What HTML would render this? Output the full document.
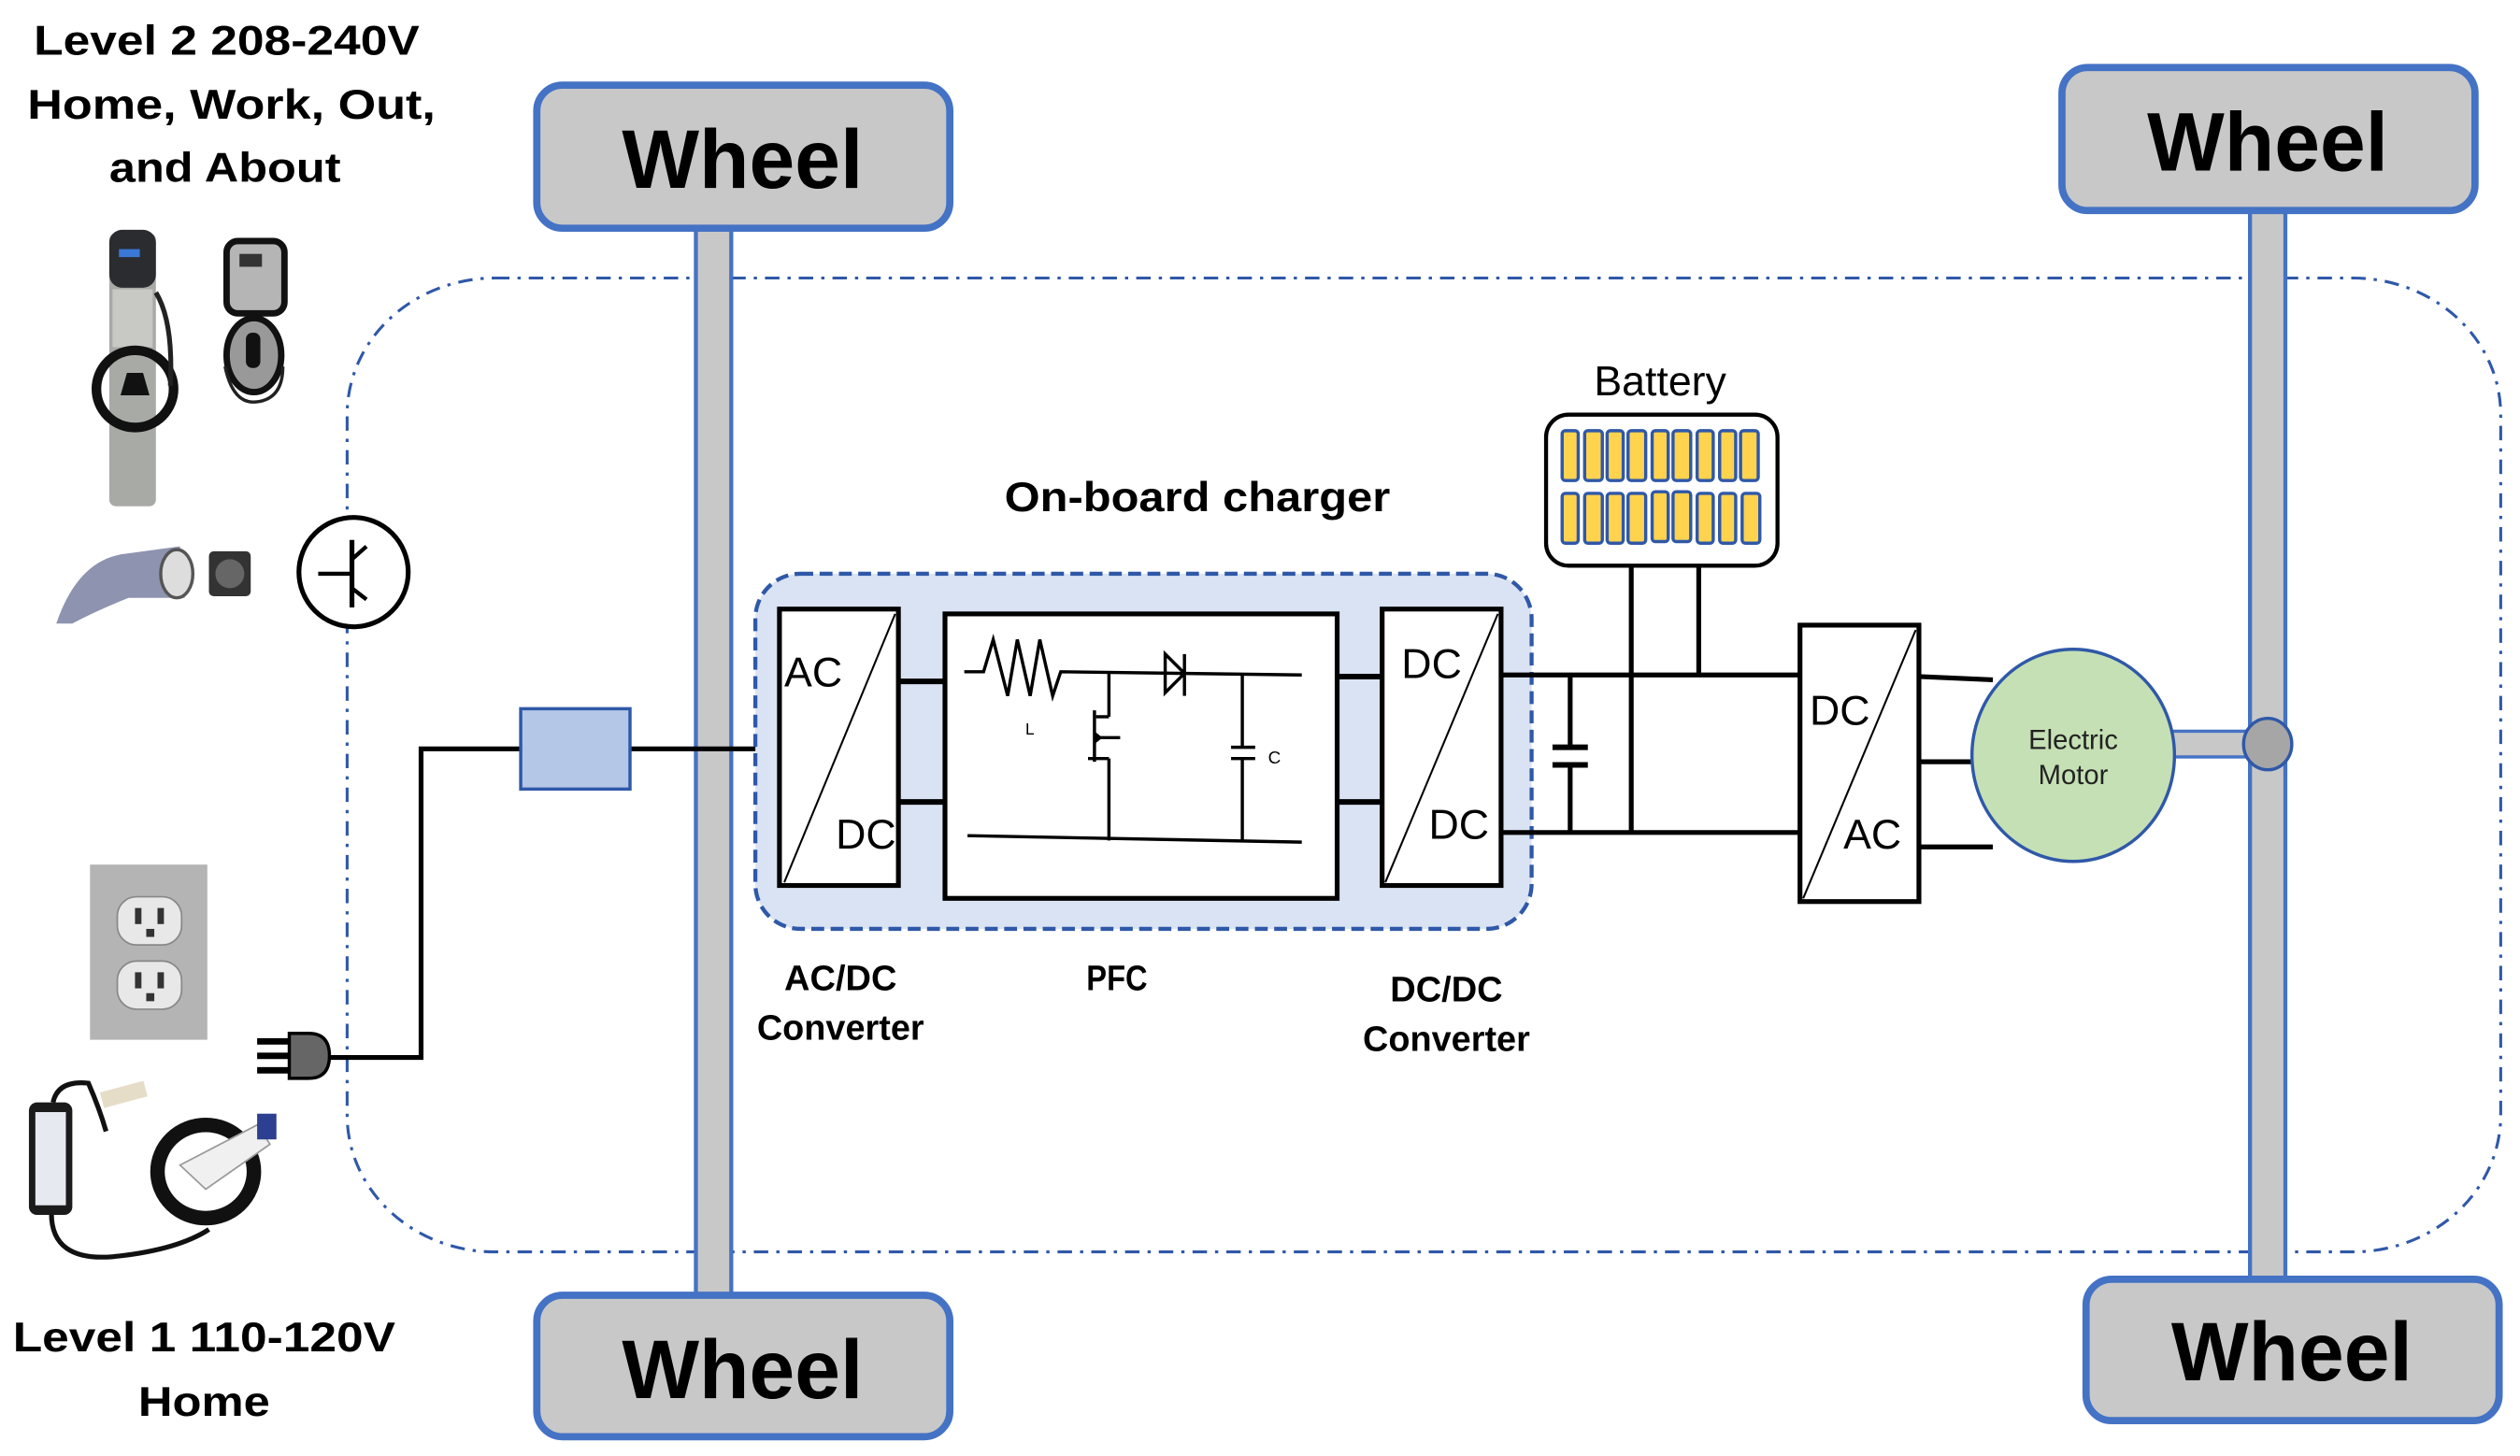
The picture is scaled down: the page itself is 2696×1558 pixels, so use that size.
<!DOCTYPE html>
<html><head><meta charset="utf-8"><style>
html,body{margin:0;padding:0;background:#fff;}
svg{display:block;}
text{font-family:"Liberation Sans",sans-serif;}
</style></head><body>
<svg width="2696" height="1558" viewBox="0 0 1568 906" preserveAspectRatio="none" xmlns="http://www.w3.org/2000/svg">
<rect width="1568" height="906" fill="#fff"/>
<rect x="216" y="173" width="1340" height="606" rx="92" ry="85" fill="none" stroke="#2f58a8" stroke-width="1.8" stroke-dasharray="9,5,2,5"/>
<rect x="433" y="140" width="22" height="668" fill="#c8c8c8" stroke="#4472c4" stroke-width="2.5"/>
<rect x="1400" y="128" width="22" height="670" fill="#c8c8c8" stroke="#4472c4" stroke-width="2.5"/>
<g stroke="#4472c4" stroke-width="4.5" fill="#c8c8c8">
<rect x="334" y="53" width="257" height="89" rx="16"/>
<rect x="334" y="806" width="257" height="88" rx="16"/>
<rect x="1283" y="42" width="257" height="89" rx="16"/>
<rect x="1298" y="796" width="257" height="88" rx="16"/>
</g>
<g font-weight="bold" font-size="52" text-anchor="middle" fill="#000">
<text x="462" y="117" textLength="150" lengthAdjust="spacingAndGlyphs">Wheel</text>
<text x="462" y="870" textLength="150" lengthAdjust="spacingAndGlyphs">Wheel</text>
<text x="1411" y="106" textLength="150" lengthAdjust="spacingAndGlyphs">Wheel</text>
<text x="1426" y="859" textLength="150" lengthAdjust="spacingAndGlyphs">Wheel</text>
</g>
<g font-weight="bold" font-size="26" text-anchor="middle" fill="#000">
<text x="141" y="34" textLength="240" lengthAdjust="spacingAndGlyphs">Level 2  208-240V</text>
<text x="144" y="74" textLength="254" lengthAdjust="spacingAndGlyphs">Home,  Work, Out,</text>
<text x="140" y="113" textLength="144" lengthAdjust="spacingAndGlyphs">and About</text>
<text x="127" y="841" textLength="238" lengthAdjust="spacingAndGlyphs">Level 1  110-120V</text>
<text x="127" y="881" textLength="82" lengthAdjust="spacingAndGlyphs">Home</text>
</g>
<!-- level2 chargers -->
<rect x="68" y="145" width="29" height="170" rx="4" fill="#a8aaa6"/>
<rect x="68" y="143" width="29" height="36" rx="8" fill="#2a2c30"/>
<rect x="74" y="155" width="13" height="5" fill="#3a78d8"/>
<rect x="70" y="180" width="25" height="36" fill="#c8c8c4"/>
<ellipse cx="84" cy="242" rx="24" ry="24" fill="none" stroke="#111" stroke-width="6"/>
<path d="M79 232 L89 232 L93 246 L75 246 Z" fill="#111"/>
<path d="M97 182 Q108 200 106 240" fill="none" stroke="#222" stroke-width="3"/>
<rect x="141" y="150" width="36" height="45" rx="7" fill="#b5b5b5" stroke="#111" stroke-width="4"/>
<rect x="149" y="158" width="14" height="8" fill="#333"/>
<ellipse cx="158" cy="221" rx="17" ry="23" fill="#999" stroke="#111" stroke-width="4"/>
<rect x="153" y="207" width="9" height="22" rx="4" fill="#111"/>
<path d="M140 228 Q145 252 160 250 Q176 248 176 228" fill="none" stroke="#222" stroke-width="2"/>
<!-- connector -->
<path d="M35 388 Q48 350 75 345 L112 340 L115 372 L80 372 Q60 380 45 388 Z" fill="#8e93b0"/>
<ellipse cx="110" cy="357" rx="10" ry="15" fill="#ddd" stroke="#555" stroke-width="2"/>
<rect x="130" y="343" width="26" height="28" rx="3" fill="#333"/>
<circle cx="143" cy="357" r="9" fill="#666"/>
<circle cx="220" cy="356" r="34" fill="#fff" stroke="#000" stroke-width="3"/>
<line x1="219" y1="336" x2="219" y2="378" stroke="#000" stroke-width="3"/>
<line x1="198" y1="357" x2="219" y2="357" stroke="#000" stroke-width="2.5"/>
<line x1="219" y1="348" x2="228" y2="340" stroke="#000" stroke-width="2.5"/>
<line x1="219" y1="366" x2="228" y2="373" stroke="#000" stroke-width="2.5"/>
<!-- outlet -->
<rect x="56" y="538" width="73" height="109" fill="#b4b4b4"/>
<g fill="#e8e8e8" stroke="#888" stroke-width="1">
<rect x="73" y="558" width="40" height="30" rx="12"/>
<rect x="73" y="598" width="40" height="30" rx="12"/>
</g>
<g fill="#333"><rect x="84" y="565" width="4" height="10"/><rect x="98" y="565" width="4" height="10"/><rect x="91" y="578" width="5" height="5"/>
<rect x="84" y="605" width="4" height="10"/><rect x="98" y="605" width="4" height="10"/><rect x="91" y="618" width="5" height="5"/></g>
<!-- level1 charger -->
<path d="M32 755 Q32 785 70 782 Q110 778 130 765" fill="none" stroke="#111" stroke-width="3"/>
<rect x="18" y="686" width="27" height="70" rx="5" fill="#1b1b1b"/>
<rect x="22" y="692" width="19" height="58" fill="#e6eaf0"/>
<path d="M33 686 Q36 672 55 674 Q62 690 66 704" fill="none" stroke="#111" stroke-width="3"/>
<rect x="63" y="676" width="28" height="10" fill="#e6ddc8" transform="rotate(-15 77 681)"/>
<ellipse cx="128" cy="729" rx="30" ry="29" fill="none" stroke="#111" stroke-width="9"/>
<path d="M112 725 L160 700 L168 712 L128 740 Z" fill="#f0f0f0" stroke="#999"/>
<rect x="160" y="693" width="12" height="16" fill="#2c3f90"/>
<g fill="#000"><rect x="160" y="646" width="20" height="4"/><rect x="160" y="655" width="20" height="4"/><rect x="160" y="664" width="20" height="4"/></g>
<path d="M180 643 L192 643 Q205 643 205 657 Q205 671 192 671 L180 671 Z" fill="#666" stroke="#000" stroke-width="2"/>
<polyline points="205,658 262,658 262,466 325,466" fill="none" stroke="#000" stroke-width="3"/>
<line x1="392" y1="466" x2="485" y2="466" stroke="#000" stroke-width="3"/>
<rect x="324" y="441" width="68" height="50" fill="#b4c7e7" stroke="#2f58a8" stroke-width="2"/>
<text x="745" y="318" font-weight="bold" font-size="26" text-anchor="middle" textLength="240" lengthAdjust="spacingAndGlyphs">On-board charger</text>
<rect x="470" y="357" width="483" height="221" rx="28" fill="#dae3f3" stroke="#2f58a8" stroke-width="2.5" stroke-dasharray="8,4"/>
<g stroke="#000" fill="#fff" stroke-width="3">
<rect x="485" y="379" width="74" height="172"/>
<rect x="588" y="382" width="244" height="177"/>
<rect x="860" y="379" width="74" height="172"/>
<rect x="1120" y="389" width="74" height="172"/>
</g>
<g stroke="#000" stroke-width="1.2">
<line x1="488" y1="549" x2="557" y2="382"/>
<line x1="862" y1="549" x2="932" y2="382"/>
<line x1="1122" y1="559" x2="1192" y2="392"/>
</g>
<g font-size="26" fill="#000">
<text x="488" y="427">AC</text><text x="520" y="528">DC</text>
<text x="872" y="422">DC</text><text x="889" y="522">DC</text>
<text x="1126" y="451">DC</text><text x="1147" y="528">AC</text>
</g>
<g stroke="#000" stroke-width="3.5">
<line x1="559" y1="424" x2="588" y2="424"/><line x1="559" y1="499" x2="588" y2="499"/>
<line x1="832" y1="421" x2="860" y2="421"/><line x1="832" y1="499" x2="860" y2="499"/>
</g>
<g stroke="#000" stroke-width="2" fill="none">
<path d="M600 418 L612 418 L618 398 L627 433 L633 398 L641 433 L647 398 L655 433 L660 418 L810 420"/>
<line x1="690" y1="419" x2="690" y2="446"/>
<line x1="690" y1="446" x2="682" y2="446"/>
<line x1="681" y1="442" x2="681" y2="474"/>
<line x1="677" y1="472" x2="690" y2="472"/>
<line x1="690" y1="472" x2="690" y2="523"/>
<line x1="682" y1="459" x2="697" y2="459"/>
<line x1="773" y1="420" x2="773" y2="465"/>
<line x1="766" y1="465" x2="781" y2="465"/>
<line x1="766" y1="472" x2="781" y2="472"/>
<line x1="773" y1="472" x2="773" y2="524"/>
<path d="M602 520 L810 524"/>
<line x1="737" y1="407" x2="737" y2="433"/>
</g>
<path d="M725 407 L737 419 L725 431 Z" fill="none" stroke="#000" stroke-width="2"/>
<path d="M681 455 L686 459 L681 463 Z" fill="#000"/>
<text x="638" y="457" font-size="10">L</text>
<text x="789" y="475" font-size="11">C</text>
<g stroke="#000" stroke-width="3">
<line x1="934" y1="420" x2="1120" y2="420"/>
<line x1="934" y1="518" x2="1120" y2="518"/>
<line x1="1015" y1="352" x2="1015" y2="518"/>
<line x1="1057" y1="352" x2="1057" y2="420"/>
<line x1="977" y1="420" x2="977" y2="465"/>
<line x1="977" y1="476" x2="977" y2="518"/>
<line x1="966" y1="465" x2="988" y2="465" stroke-width="3.5"/>
<line x1="966" y1="476" x2="988" y2="476" stroke-width="3.5"/>
<line x1="1194" y1="421" x2="1240" y2="423"/>
<line x1="1194" y1="474" x2="1230" y2="474"/>
<line x1="1194" y1="527" x2="1240" y2="527"/>
</g>
<text x="1033" y="246" font-size="26" text-anchor="middle">Battery</text>
<rect x="962" y="258" width="144" height="94" rx="14" fill="#fff" stroke="#000" stroke-width="2.5"/>
<g fill="#ffd34e" stroke="#2f58a8" stroke-width="2">
<rect x="972" y="268" width="10" height="31" rx="2"/><rect x="986" y="268" width="11" height="31" rx="2"/><rect x="1000" y="268" width="10" height="31" rx="2"/><rect x="1013" y="268" width="11" height="31" rx="2"/><rect x="1028" y="268" width="10" height="31" rx="2"/><rect x="1041" y="268" width="11" height="31" rx="2"/><rect x="1056" y="268" width="10" height="31" rx="2"/><rect x="1070" y="268" width="10" height="31" rx="2"/><rect x="1083" y="268" width="11" height="31" rx="2"/>
<rect x="972" y="307" width="10" height="31" rx="2"/><rect x="986" y="307" width="11" height="31" rx="2"/><rect x="1000" y="307" width="10" height="31" rx="2"/><rect x="1013" y="307" width="11" height="31" rx="2"/><rect x="1028" y="306" width="10" height="31" rx="2"/><rect x="1041" y="306" width="11" height="31" rx="2"/><rect x="1056" y="307" width="10" height="31" rx="2"/><rect x="1070" y="307" width="10" height="31" rx="2"/><rect x="1084" y="307" width="11" height="31" rx="2"/>
</g>
<rect x="1350" y="455" width="52" height="16" fill="#c8c8c8" stroke="#4472c4" stroke-width="2"/>
<ellipse cx="1290" cy="470" rx="63" ry="66" fill="#c5e0b4" stroke="#2f58a8" stroke-width="2"/>
<text x="1290" y="466" font-size="17" text-anchor="middle" fill="#222">Electric</text>
<text x="1290" y="488" font-size="17" text-anchor="middle" fill="#222">Motor</text>
<ellipse cx="1411" cy="463" rx="15" ry="16" fill="#a6a6a6" stroke="#2f58a8" stroke-width="2"/>
<g font-weight="bold" font-size="22" text-anchor="middle" fill="#000">
<text x="523" y="616" textLength="70" lengthAdjust="spacingAndGlyphs">AC/DC</text>
<text x="523" y="647" textLength="104" lengthAdjust="spacingAndGlyphs">Converter</text>
<text x="695" y="616" textLength="38" lengthAdjust="spacingAndGlyphs">PFC</text>
<text x="900" y="623" textLength="70" lengthAdjust="spacingAndGlyphs">DC/DC</text>
<text x="900" y="654" textLength="104" lengthAdjust="spacingAndGlyphs">Converter</text>
</g>
</svg>
</body></html>
